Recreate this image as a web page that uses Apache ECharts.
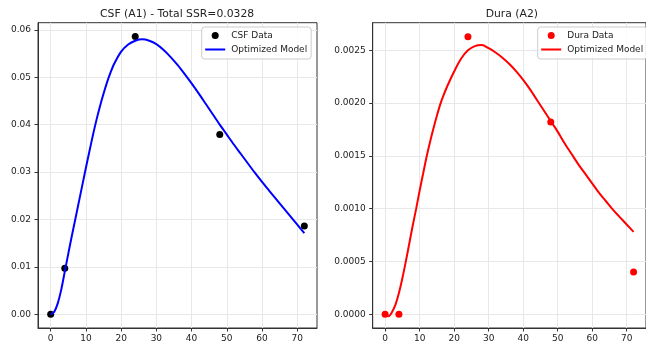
<!DOCTYPE html>
<html>
<head>
<meta charset="utf-8">
<script src="https://cdn.jsdelivr.net/npm/echarts@6/dist/echarts.min.js"></script>
<style>
html,body{margin:0;padding:0;background:#fff;}
#chart{width:646px;height:347px;}
</style>
</head>
<body>
<div id="chart"></div>
<script>
// Observed sample times and measured values
const sampleTimes = [0, 4, 24, 48, 72];
const csfData = [0, 0.0097, 0.0586, 0.0379, 0.0186];
const duraData = [0, 0, 0.00263, 0.00182, 0.00040];

// Optimized model curves
const modelTimes = [0,1,2,3,4,5,6,7,8,9,10,11,12,13,14,15,16,17,18,20,22,24,26,28,30,32,34,36,38,40,42,44,46,48,50,52,54,56,58,60,62,64,66,68,70,72];
const csfModel = [0,0.0005,0.0023,0.0052,0.0090,0.0128,0.0165,0.0201,0.0237,0.0273,0.0309,0.0344,0.0378,0.0410,0.0439,0.0465,0.0489,0.0510,0.0528,0.0554,0.0569,0.0577,0.0580,0.0577,0.0570,0.0558,0.0543,0.0526,0.0507,0.0487,0.0466,0.0444,0.0422,0.0400,0.0379,0.0358,0.0338,0.0318,0.0298,0.0279,0.0261,0.0243,0.0225,0.0207,0.0189,0.0171];
const duraModel = [0,-0.00002,0.00002,0.00009,0.00020,0.00034,0.00050,0.00067,0.00084,0.00100,0.00117,0.00133,0.00149,0.00163,0.00176,0.00188,0.00199,0.00208,0.00216,0.00230,0.00242,0.00250,0.00254,0.00255,0.00252,0.00248,0.00243,0.00237,0.00230,0.00222,0.00213,0.00203,0.00193,0.00183,0.00173,0.00162,0.00152,0.00142,0.00133,0.00124,0.00115,0.00107,0.00099,0.00092,0.00085,0.00078];

// Tick labels
const xTicks = [0,10,20,30,40,50,60,70];
const csfTicks = [0,0.01,0.02,0.03,0.04,0.05,0.06];
const duraTicks = [0,0.0005,0.0010,0.0015,0.0020,0.0025];

const titles = ['CSF (A1) - Total SSR=0.0328', 'Dura (A2)'];

const FONT = 'DejaVu Sans';
const TXT = '#222';
const LINE_ICON = 'path://M0,0h20v2h-20z';
const zip = (xs, ys) => xs.map((x, i) => [x, ys[i]]);

function xAxisCfg(gridIndex) {
  return {
    type: 'value', gridIndex, min: -3.6, max: 75.6,
    axisLine: {show: true, onZero: false, lineStyle: {color: '#333', width: 1}},
    axisTick: {show: true, length: 3.5, lineStyle: {color: '#333'}, customValues: xTicks},
    axisLabel: {customValues: xTicks, margin: 6, fontSize: 9, fontFamily: FONT, color: TXT},
    splitLine: {show: true, lineStyle: {color: '#e8e8e8', width: 1}}
  };
}
function yAxisCfg(gridIndex, min, max, ticks, digits) {
  return {
    type: 'value', gridIndex, min, max,
    axisLine: {show: true, onZero: false, lineStyle: {color: '#333', width: 1}},
    axisTick: {show: true, length: 3.5, lineStyle: {color: '#333'}, customValues: ticks},
    axisLabel: {customValues: ticks, margin: 7, fontSize: 9, fontFamily: FONT, color: TXT,
      formatter: v => Number(v).toFixed(digits)},
    splitLine: {show: true, lineStyle: {color: '#e8e8e8', width: 1}}
  };
}
function legendCfg(left, names) {
  return {
    orient: 'vertical', left, top: 27,
    data: [{name: names[0], icon: 'circle'}, {name: names[1], icon: LINE_ICON}],
    itemWidth: 20, itemHeight: 7, itemGap: 2,
    padding: [2.5, 4, 3.5, 3.5],
    backgroundColor: 'rgba(255,255,255,0.85)',
    borderColor: '#cccccc', borderWidth: 1, borderRadius: 3,
    selectedMode: false,
    formatter: n => n.replace(' (A2)', ''),
    textStyle: {fontSize: 9, fontFamily: FONT, color: TXT, lineHeight: 12, padding: [0,0,0,1]}
  };
}

const chart = echarts.init(document.getElementById('chart'), null, {renderer: 'canvas'});
chart.setOption({
  animation: false,
  backgroundColor: '#fff',
  title: [
    {text: titles[0], left: 100, top: 8.5, padding: 0, textStyle: {fontSize: 10.8, fontWeight: 'normal', fontFamily: FONT, color: TXT}},
    {text: titles[1], left: 485.7, top: 8.5, padding: 0, textStyle: {fontSize: 10.8, fontWeight: 'normal', fontFamily: FONT, color: TXT}}
  ],
  grid: [
    {left: 38, top: 22.7, width: 279, height: 305.3, show: true, borderColor: '#333', borderWidth: 1, containLabel: false},
    {left: 372.7, top: 22.7, width: 278.7, height: 305.3, show: true, borderColor: '#333', borderWidth: 1, containLabel: false}
  ],
  xAxis: [xAxisCfg(0), xAxisCfg(1)],
  yAxis: [
    yAxisCfg(0, -0.0029, 0.0615, csfTicks, 2),
    yAxisCfg(1, -0.000131, 0.002762, duraTicks, 4)
  ],
  legend: [
    legendCfg(201.7, ['CSF Data', 'Optimized Model']),
    legendCfg(537.7, ['Dura Data', 'Optimized Model (A2)'])
  ],
  series: [
    {name: 'CSF Data', type: 'scatter', xAxisIndex: 0, yAxisIndex: 0, data: zip(sampleTimes, csfData),
      symbol: 'circle', symbolSize: 7, itemStyle: {color: '#000', opacity: 1}, z: 2},
    {name: 'Optimized Model', type: 'line', xAxisIndex: 0, yAxisIndex: 0, data: zip(modelTimes, csfModel),
      symbol: 'none', showSymbol: false, smooth: 0.3, lineStyle: {color: '#0000ff', width: 2}, itemStyle: {color: '#0000ff'}, z: 3},
    {name: 'Dura Data', type: 'scatter', xAxisIndex: 1, yAxisIndex: 1, data: zip(sampleTimes, duraData),
      symbol: 'circle', symbolSize: 7, itemStyle: {color: '#ff0000', opacity: 1}, z: 2},
    {name: 'Optimized Model (A2)', type: 'line', xAxisIndex: 1, yAxisIndex: 1, data: zip(modelTimes, duraModel),
      symbol: 'none', showSymbol: false, smooth: 0.3, lineStyle: {color: '#ff0000', width: 2}, itemStyle: {color: '#ff0000'}, z: 3}
  ]
});
</script>
</body>
</html>
